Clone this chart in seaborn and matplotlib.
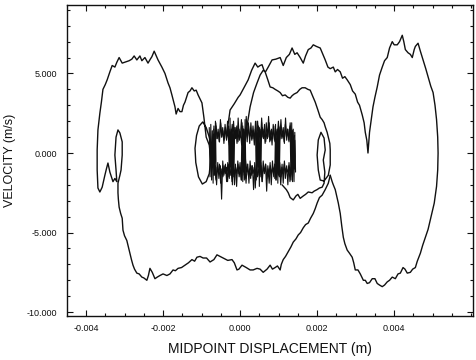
import numpy as np
import pandas as pd
import matplotlib
matplotlib.use("Agg")
import matplotlib.pyplot as plt
import seaborn as sns
from matplotlib.ticker import MultipleLocator, FormatStrFormatter

# =========================
# DATA (x in mm, velocity in m/s)
# =========================

# arch rising out of the centre, spike at x~3.3 mm, big right loop, bottom back to x~2.3
outer_right = [(0.13, 0.8), (0.2, 2.0), (0.26, 2.9), (0.35, 3.8), (0.44, 4.4), (0.52, 4.9), (0.6, 5.2),
               (0.66, 5.1), (0.73, 5.4), (0.83, 5.85), (0.93, 5.9), (1.04, 6.0), (1.12, 5.5), (1.2, 6.0),
               (1.28, 6.2), (1.35, 6.6), (1.42, 6.2), (1.48, 6.3), (1.56, 6.0), (1.64, 5.65), (1.7, 6.1),
               (1.77, 6.5), (1.84, 6.6), (1.9, 6.8), (1.98, 6.7), (2.08, 6.6), (2.15, 6.2), (2.21, 5.85),
               (2.28, 5.4), (2.34, 5.3), (2.42, 5.4), (2.47, 5.1), (2.53, 5.25), (2.6, 5.1), (2.66, 4.7),
               (2.72, 4.8), (2.78, 4.6), (2.86, 4.3), (2.92, 3.9), (2.99, 3.7), (3.05, 3.2), (3.1, 3.0),
               (3.17, 2.4), (3.22, 1.9), (3.25, 1.3), (3.29, 0.8), (3.32, 0.0), (3.36, 1.3), (3.4, 2.0),
               (3.45, 2.9), (3.5, 3.5), (3.56, 4.15), (3.62, 4.9), (3.69, 5.4), (3.75, 5.8), (3.82, 6.0),
               (3.88, 6.6), (3.95, 7.0), (4.0, 6.8), (4.08, 6.8), (4.14, 7.0), (4.21, 7.4), (4.25, 7.0),
               (4.29, 6.5), (4.36, 6.3), (4.42, 6.2), (4.47, 6.0), (4.52, 6.5), (4.55, 6.7), (4.62, 6.9),
               (4.68, 6.4), (4.75, 5.85), (4.82, 5.3), (4.88, 4.8), (4.95, 4.2), (5.01, 3.8), (5.06, 3.0),
               (5.1, 2.1), (5.13, 1.0), (5.14, 0.0), (5.13, -1.07), (5.1, -2.1), (5.04, -3.15), (4.94, -4.2),
               (4.88, -4.8), (4.81, -5.3), (4.74, -5.8), (4.68, -6.3), (4.6, -6.8), (4.55, -7.2),
               (4.48, -7.3), (4.42, -7.5), (4.34, -7.55), (4.28, -7.3), (4.23, -7.2), (4.16, -7.55),
               (4.1, -7.6), (4.03, -7.9), (3.95, -7.8), (3.88, -8.0), (3.82, -8.1), (3.75, -8.3),
               (3.69, -8.4), (3.62, -8.3), (3.56, -8.2), (3.5, -7.9), (3.43, -7.9), (3.36, -8.15),
               (3.3, -8.2), (3.25, -8.0), (3.2, -8.0), (3.12, -7.6), (3.06, -7.35), (2.99, -7.35),
               (2.95, -6.9), (2.91, -6.55), (2.84, -6.3), (2.78, -6.1), (2.72, -5.7), (2.68, -5.3),
               (2.64, -4.6), (2.6, -3.8), (2.55, -3.15), (2.5, -2.6), (2.47, -2.3), (2.42, -2.0),
               (2.39, -1.8), (2.34, -1.4)]

# long lower curve going left, then left loop, top-left arch into the centre
outer_left = [(2.34, -1.4), (2.29, -1.9), (2.21, -2.3), (2.13, -2.65), (2.06, -2.8), (2.0, -3.15),
              (1.95, -3.5), (1.9, -3.8), (1.83, -4.1), (1.77, -4.4), (1.7, -4.5), (1.64, -4.7),
              (1.57, -5.0), (1.51, -5.15), (1.45, -5.4), (1.38, -5.6), (1.32, -5.9), (1.25, -6.2),
              (1.18, -6.5), (1.12, -6.7), (1.07, -7.0), (1.04, -7.35), (0.97, -7.1), (0.91, -7.2),
              (0.84, -7.3), (0.78, -7.05), (0.7, -7.3), (0.6, -7.5), (0.52, -7.3), (0.44, -7.25),
              (0.34, -7.35), (0.26, -7.35), (0.16, -7.2), (0.05, -7.05), (-0.03, -7.3), (-0.08, -7.35),
              (-0.15, -6.9), (-0.21, -6.7), (-0.32, -6.75), (-0.44, -6.6), (-0.52, -6.5), (-0.6, -6.4),
              (-0.68, -6.7), (-0.78, -6.85), (-0.87, -6.6), (-0.96, -6.6), (-1.04, -6.5), (-1.12, -6.55),
              (-1.18, -6.8), (-1.25, -6.7), (-1.34, -6.9), (-1.43, -7.05), (-1.52, -7.2), (-1.61, -7.25),
              (-1.68, -7.4), (-1.74, -7.35), (-1.82, -7.6), (-1.9, -7.7), (-2.0, -7.6), (-2.08, -7.7),
              (-2.15, -7.8), (-2.21, -7.9), (-2.28, -7.5), (-2.34, -7.25), (-2.38, -7.7), (-2.42, -8.0),
              (-2.5, -7.85), (-2.55, -7.8), (-2.62, -7.6), (-2.68, -7.55), (-2.74, -7.3), (-2.78, -7.05),
              (-2.82, -6.7), (-2.86, -6.3), (-2.9, -5.9), (-2.94, -5.5), (-3.0, -5.2), (-3.04, -4.85),
              (-3.06, -4.1), (-3.1, -3.8), (-3.14, -3.4), (-3.16, -2.9), (-3.17, -2.5), (-3.17, -1.9),
              (-3.12, -1.4), (-3.09, -1.07), (-3.06, -0.13), (-3.06, 0.7), (-3.12, 1.26), (-3.17, 1.45),
              (-3.22, 1.0), (-3.25, -0.13), (-3.22, -1.07), (-3.2, -1.8), (-3.25, -1.6), (-3.3, -1.8),
              (-3.38, -1.2), (-3.43, -0.63), (-3.47, -1.0), (-3.51, -1.4), (-3.58, -2.15), (-3.64, -2.45),
              (-3.69, -2.2), (-3.71, -1.07), (-3.71, 0.19), (-3.69, 1.45), (-3.64, 2.5), (-3.6, 3.2),
              (-3.56, 4.0), (-3.5, 4.3), (-3.45, 4.6), (-3.38, 5.1), (-3.32, 5.5), (-3.25, 5.4),
              (-3.2, 5.7), (-3.14, 6.0), (-3.06, 5.65), (-3.0, 5.7), (-2.94, 5.75), (-2.88, 5.8),
              (-2.81, 5.9), (-2.75, 6.1), (-2.68, 5.85), (-2.6, 6.1), (-2.55, 5.8), (-2.47, 6.0),
              (-2.39, 5.65), (-2.33, 5.9), (-2.29, 6.05), (-2.23, 6.4), (-2.13, 5.85), (-2.03, 5.4),
              (-1.95, 5.0), (-1.87, 4.4), (-1.82, 4.1), (-1.77, 3.65), (-1.69, 2.9), (-1.66, 2.45),
              (-1.61, 2.8), (-1.56, 2.6), (-1.51, 2.6), (-1.47, 3.0), (-1.43, 3.2), (-1.35, 3.8),
              (-1.3, 3.9), (-1.25, 4.1), (-1.19, 3.9), (-1.14, 3.95), (-1.09, 3.65), (-0.99, 3.15),
              (-0.94, 2.25), (-0.91, 1.65), (-0.88, 1.0),
              # small ellipse at the left of the centre
              (-0.8, 0.5), (-0.76, -0.4), (-0.8, -1.3), (-0.88, -1.8), (-0.98, -1.95), (-1.08, -1.5),
              (-1.15, -0.6), (-1.17, 0.3), (-1.13, 1.1), (-1.06, 1.7), (-0.97, 1.95), (-0.88, 1.6),
              (-0.8, 1.0), (-0.74, 0.4)]

# inner arch over to the ellipse at x~2.2 mm and back along v~-2.5
inner_arch = [(-0.35, 1.2), (-0.3, 2.0), (-0.26, 2.7), (-0.15, 3.1), (-0.05, 3.5), (0.0, 3.65), (0.1, 4.1),
              (0.21, 4.6), (0.3, 5.2), (0.39, 5.65), (0.46, 5.4), (0.52, 5.5), (0.57, 5.55), (0.62, 5.2),
              (0.65, 5.1), (0.72, 4.6), (0.78, 4.15), (0.85, 4.1), (0.91, 4.0), (0.98, 3.9), (1.04, 3.8),
              (1.1, 3.6), (1.17, 3.65), (1.24, 3.5), (1.3, 3.45), (1.35, 3.6), (1.4, 3.7), (1.48, 3.8),
              (1.55, 4.0), (1.61, 4.1), (1.69, 4.1), (1.76, 4.0), (1.82, 3.95), (1.88, 3.6), (1.95, 3.2),
              (2.02, 2.7), (2.08, 2.25), (2.13, 2.1), (2.18, 1.9), (2.21, 1.65), (2.26, 1.3), (2.29, 1.0),
              (2.33, 0.6), (2.34, 0.19), (2.34, -0.3), (2.34, -0.75), (2.29, -1.4), (2.18, -1.76),
              (2.08, -1.7), (2.03, -1.07), (2.0, -0.13), (2.03, 0.82), (2.1, 1.3), (2.18, 0.94),
              (2.21, 0.19), (2.16, -0.44), (2.2, -1.2), (2.18, -1.9), (2.13, -2.15), (2.06, -2.2),
              (2.0, -2.3), (1.92, -2.4), (1.87, -2.5), (1.77, -2.45), (1.7, -2.6), (1.64, -2.7),
              (1.56, -2.85), (1.5, -2.6), (1.45, -2.7), (1.38, -2.95), (1.3, -2.8), (1.25, -2.5),
              (1.2, -2.3), (1.09, -2.0)]

# dense centre: upper and lower jagged halves around each hole (left to right)
top_a = [(-0.70, 0.2), (-0.69, 1.2), (-0.66, 0.6), (-0.63, 1.9), (-0.60, 0.9), (-0.57, 1.5), (-0.54, 0.7),
         (-0.51, 2.1), (-0.48, 1.0), (-0.45, 1.6), (-0.42, 0.6), (-0.39, 1.8), (-0.35, 0.8), (-0.32, 1.4),
         (-0.28, 0.5), (-0.25, 1.2), (-0.22, 0.1)]
bot_a = [(-0.70, -0.4), (-0.67, -1.3), (-0.64, -0.8), (-0.61, -2.0), (-0.58, -0.6), (-0.55, -1.6),
         (-0.51, -0.8), (-0.48, -2.9), (-0.45, -0.5), (-0.42, -1.4), (-0.38, -0.7), (-0.35, -1.8),
         (-0.32, -0.6), (-0.29, -1.5), (-0.26, -0.3), (-0.23, -0.9)]
top_b = [(-0.25, 0.3), (-0.23, 1.4), (-0.20, 0.7), (-0.17, 2.0), (-0.14, 0.9), (-0.11, 1.6), (-0.08, 0.6),
         (-0.05, 2.2), (-0.02, 0.8), (0.01, 1.3), (0.04, 0.5), (0.07, 1.7), (0.10, 0.2)]
bot_b = [(-0.24, -0.3), (-0.21, -1.8), (-0.18, -0.6), (-0.15, -1.5), (-0.12, -0.7), (-0.09, -2.1),
         (-0.06, -0.5), (-0.03, -1.3), (0.0, -0.6), (0.03, -1.7), (0.06, -0.4), (0.09, -1.0), (0.11, -0.2)]
top_c = [(0.08, 0.4), (0.10, 1.5), (0.13, 0.8), (0.16, 2.3), (0.19, 1.0), (0.22, 1.7), (0.25, 0.6),
         (0.28, 1.9), (0.31, 0.9), (0.34, 1.4), (0.37, 0.5), (0.40, 2.0), (0.43, 0.8), (0.46, 1.3), (0.48, 0.1)]
bot_c = [(0.09, -0.3), (0.11, -1.7), (0.14, -0.4), (0.17, -1.2), (0.20, -0.7), (0.23, -1.9), (0.26, -0.5),
         (0.29, -1.4), (0.32, -0.8), (0.35, -2.3), (0.38, -0.6), (0.41, -1.6), (0.44, -0.4), (0.47, -0.9),
         (0.49, -0.1)]
top_d = [(0.48, 0.3), (0.50, 1.6), (0.53, 0.8), (0.56, 2.2), (0.59, 1.0), (0.62, 1.5), (0.65, 0.6),
         (0.68, 1.9), (0.71, 0.9), (0.74, 2.3), (0.77, 0.7), (0.80, 1.4), (0.83, 0.5), (0.86, 1.8),
         (0.89, 0.8), (0.92, 1.2), (0.95, 0.4), (0.98, 1.5), (1.00, 0.0)]
bot_d = [(0.49, -0.2), (0.51, -1.2), (0.54, -0.6), (0.57, -1.8), (0.60, -0.5), (0.63, -1.3), (0.66, -0.7),
         (0.69, -2.4), (0.72, -0.8), (0.75, -1.5), (0.78, -0.6), (0.81, -2.0), (0.84, -0.5), (0.87, -1.3),
         (0.90, -0.7), (0.93, -1.7), (0.96, -0.4), (0.99, -1.1)]
top_e = [(0.98, 0.5), (1.00, 1.7), (1.03, 0.9), (1.06, 2.1), (1.09, 1.0), (1.12, 1.6), (1.15, 0.6),
         (1.18, 2.2), (1.21, 0.8), (1.24, 1.5), (1.27, 0.7), (1.30, 1.9), (1.33, 0.9), (1.36, 1.4),
         (1.39, 0.6), (1.42, 0.8), (1.43, -0.2)]
bot_e = [(0.98, -0.3), (1.00, -1.2), (1.03, -0.6), (1.06, -1.5), (1.09, -0.7), (1.12, -1.9), (1.15, -0.5),
         (1.18, -1.3), (1.21, -0.8), (1.24, -2.0), (1.27, -0.6), (1.30, -1.4), (1.33, -0.7), (1.36, -1.8),
         (1.39, -0.5), (1.42, -1.0)]

# dark vertical bars between the holes
bars = [
    [(-0.80, 1.6), (-0.78, -1.5), (-0.76, 1.8), (-0.74, -1.7), (-0.72, 1.4), (-0.70, -1.9), (-0.68, 1.7),
     (-0.66, -1.4), (-0.64, 2.0), (-0.62, -1.6)],
    [(-0.30, 1.7), (-0.28, -1.6), (-0.26, 2.2), (-0.24, -1.4), (-0.22, 1.5), (-0.20, -2.0), (-0.18, 1.8),
     (-0.16, -1.5), (-0.14, 1.6)],
    [(0.03, -1.5), (0.05, 1.9), (0.07, -1.8), (0.09, 1.5), (0.11, -1.4), (0.13, 2.1), (0.15, -1.6)],
    [(0.40, 1.6), (0.42, -1.7), (0.44, 2.0), (0.46, -1.4), (0.48, 1.7), (0.50, -2.1), (0.52, 1.5),
     (0.54, -1.5), (0.56, 1.9)],
    [(0.90, -1.6), (0.92, 1.8), (0.94, -1.4), (0.96, 1.5), (0.98, -1.9), (1.00, 1.7), (1.02, -1.5),
     (1.04, 1.6)],
    [(1.30, 1.6), (1.32, -1.7), (1.34, 1.9), (1.36, -1.5), (1.38, 1.5), (1.40, -1.8), (1.42, 1.3),
     (1.44, -1.2)],
]

# second pass over the band, upper and lower halves
band_x = [-0.685, -0.655, -0.625, -0.595, -0.565, -0.535, -0.505, -0.475, -0.445, -0.415, -0.385,
          -0.355, -0.325, -0.295, -0.265, -0.235, -0.205, -0.175, -0.145, -0.115, -0.085, -0.055,
          -0.025, 0.005, 0.035, 0.065, 0.095, 0.125, 0.155, 0.185, 0.215, 0.245, 0.275, 0.305, 0.335,
          0.365, 0.395, 0.425, 0.455, 0.485, 0.515, 0.545, 0.575, 0.605, 0.635, 0.665, 0.695, 0.725,
          0.755, 0.785, 0.815, 0.845, 0.875, 0.905, 0.935, 0.965, 0.995, 1.025, 1.055, 1.085, 1.115,
          1.145, 1.175, 1.205, 1.235, 1.265, 1.295, 1.325, 1.355, 1.385, 1.415]
band_top = [1.5, 0.8, 1.7, 0.9, 1.3, 0.7, 1.9, 1.0, 1.4, 0.8, 1.6, 0.9, 2.0, 0.7, 1.5, 1.0, 1.8, 0.8,
            1.3, 0.9, 1.7, 0.7, 1.5, 1.0, 2.1, 0.8, 1.4, 0.9, 1.6, 0.7, 1.9, 1.0, 1.3, 0.8, 1.7, 0.9,
            1.5, 0.7, 2.0, 1.0, 1.4, 0.8, 1.6, 0.9, 1.8, 0.7, 1.3, 1.0, 1.9, 0.8, 1.5, 0.9, 1.7, 0.7,
            1.4, 1.0, 2.0, 0.8, 1.6, 0.9, 1.3, 0.7, 1.8, 1.0, 1.5, 0.8, 1.7, 0.9, 1.4, 0.7, 1.1]
band_bot = [-1.4, -0.8, -1.7, -0.9, -1.2, -0.7, -1.9, -1.0, -1.5, -0.8, -1.3, -0.9, -1.8, -0.7, -1.4,
            -1.0, -1.6, -0.8, -2.0, -0.9, -1.3, -0.7, -1.5, -1.0, -1.7, -0.8, -1.2, -0.9, -1.9, -0.7,
            -1.4, -1.0, -1.6, -0.8, -1.3, -0.9, -2.2, -0.7, -1.5, -1.0, -1.4, -0.8, -1.8, -0.9, -1.2,
            -0.7, -1.6, -1.0, -1.9, -0.8, -1.3, -0.9, -1.5, -0.7, -1.7, -1.0, -1.4, -0.8, -2.0, -0.9,
            -1.3, -0.7, -1.6, -1.0, -1.2, -0.8, -1.8, -0.9, -1.4, -0.7, -1.0]

x_ticks = [-0.004, -0.002, 0.000, 0.002, 0.004]
y_ticks = [-10.0, -5.0, 0.0, 5.0]

# serpentine through the centre so every hole gets a closed jagged loop
dense = (top_a + bot_b + top_c + bot_d + top_e
         + bot_e[::-1] + top_d[::-1] + bot_c[::-1] + top_b[::-1] + bot_a[::-1])


def to_df(pts):
    arr = np.array(pts)
    return pd.DataFrame({"x": arr[:, 0] * 1e-3, "y": arr[:, 1]})


# =========================
# PLOT
# =========================

sns.set_style("ticks")
plt.rcParams["font.family"] = ["Liberation Sans", "DejaVu Sans"]

fig = plt.figure(figsize=(4.76, 3.6), dpi=100)
ax = fig.add_axes([0.141, 0.122, 0.853, 0.864])

line_kw = dict(sort=False, estimator=None, color="#111111", ax=ax)

for pts in [outer_right, outer_left, inner_arch]:
    sns.lineplot(data=to_df(pts), x="x", y="y", linewidth=1.0, **line_kw)

for pts in [dense] + bars + [list(zip(band_x, band_top)), list(zip(band_x, band_bot))]:
    sns.lineplot(data=to_df(pts), x="x", y="y", linewidth=0.8, **line_kw)

ax.set_xlim(-0.00449, 0.00605)
ax.set_ylim(-10.25, 9.3)
ax.set_xticks(x_ticks)
ax.set_yticks(y_ticks)
ax.xaxis.set_major_formatter(FormatStrFormatter("%.3f"))
ax.yaxis.set_major_formatter(FormatStrFormatter("%.3f"))
ax.xaxis.set_minor_locator(MultipleLocator(0.0005))
ax.yaxis.set_minor_locator(MultipleLocator(1.0))
ax.tick_params(which="both", direction="in", top=True, right=True, width=0.8,
               labelsize=6.5, colors="#111111")
ax.tick_params(which="major", length=4)
ax.tick_params(which="minor", length=2)
ax.tick_params(axis="x", pad=6)
ax.tick_params(axis="y", pad=7)

for s in ax.spines.values():
    s.set_linewidth(1.0)
    s.set_color("#111111")

ax.set_xlabel("MIDPOINT DISPLACEMENT (m)", fontsize=10, labelpad=6, color="#111111")
ax.set_ylabel("VELOCITY (m/s)", fontsize=9, labelpad=8, color="#111111")

fig.savefig("out.png", dpi=100)
